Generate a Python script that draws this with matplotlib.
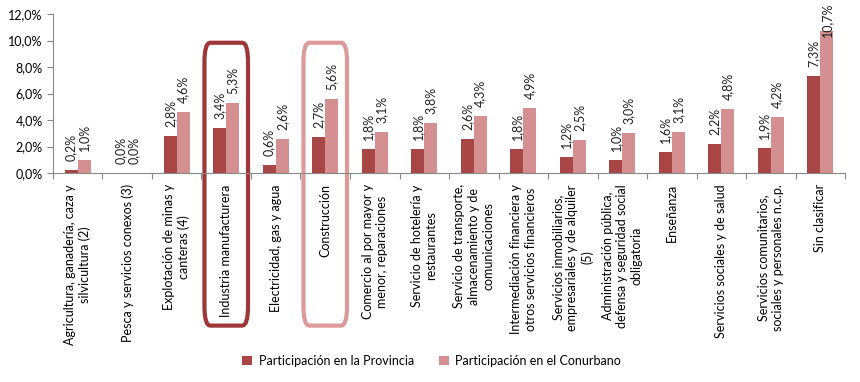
import numpy as np
import matplotlib.pyplot as plt
from matplotlib.patches import FancyBboxPatch
from matplotlib.transforms import blended_transform_factory

plt.rcParams['font.family'] = ['Lato', 'DejaVu Sans']

categories = [
    'Agricultura, ganadería, caza y\nsilvicultura (2)',
    'Pesca y servicios conexos (3)',
    'Explotación de minas y\ncanteras (4)',
    'Industria manufacturera',
    'Electricidad, gas y agua',
    'Construcción',
    'Comercio al por mayor y\nmenor, reparaciones',
    'Servicio de hotelería y\nrestaurantes',
    'Servicio de transporte,\nalmacenamiento y de\ncomunicaciones',
    'Intermediación financiera y\notros servicios financieros',
    'Servicios inmobiliarios,\nempresariales y de alquiler\n(5)',
    'Administración pública,\ndefensa y seguridad social\nobligatoria',
    'Enseñanza',
    'Servicios sociales y de salud',
    'Servicios comunitarios,\nsociales y personales n.c.p.',
    'Sin clasificar',
]
provincia = [0.2, 0.0, 2.8, 3.4, 0.6, 2.7, 1.8, 1.8, 2.6, 1.8, 1.2, 1.0, 1.6, 2.2, 1.9, 7.3]
conurbano = [1.0, 0.0, 4.6, 5.3, 2.6, 5.6, 3.1, 3.8, 4.3, 4.9, 2.5, 3.0, 3.1, 4.8, 4.2, 10.7]
series_names = ['Participación en la Provincia', 'Participación en el Conurbano']
highlight = {'Industria manufacturera': '#9E3838', 'Construcción': '#DC9A9A'}

dark = '#A84645'
light = '#D49090'
fs = 9

fig = plt.figure(figsize=(8.6, 3.82), dpi=100)
ax = fig.add_axes([0.0616, 0.547, 0.921, 0.416])

x = np.arange(len(categories))
w = 0.265
b1 = ax.bar(x - w / 2, provincia, w, color=dark, label=series_names[0])
b2 = ax.bar(x + w / 2, conurbano, w, color=light, label=series_names[1])

labels = []
for bars, vals in ((b1, provincia), (b2, conurbano)):
    for rect, v in zip(bars, vals):
        labels.append(ax.annotate(f'{v:.1f}%'.replace('.', ','),
                                  (rect.get_x() + rect.get_width() / 2, v),
                                  xytext=(0, 6.5), textcoords='offset points',
                                  rotation=90, ha='center', va='bottom',
                                  fontsize=fs, color='#222222'))

ax.set_xlim(-0.5, len(categories) - 0.5)
ax.set_ylim(0, 12)
yt = np.arange(0, 12.1, 2)
ax.set_yticks(yt)
ax.set_yticklabels([f'{t:.1f}%'.replace('.', ',') for t in yt])
ax.set_xticks(np.arange(-0.5, len(categories)))
ax.set_xticklabels([])
ax.set_xticks(x, minor=True)
ax.set_xticklabels(categories, minor=True, rotation=90, ha='center', va='top',
                   multialignment='center', fontsize=fs, linespacing=1.25)
ax.tick_params(axis='x', which='minor', length=0, pad=8)
ax.tick_params(axis='x', which='major', length=4, color='#888888')
ax.tick_params(axis='y', length=4, color='#888888', labelsize=fs)
for s in ('top', 'right'):
    ax.spines[s].set_visible(False)
for s in ('left', 'bottom'):
    ax.spines[s].set_color('#888888')

trans = blended_transform_factory(ax.transData, ax.transAxes)
for i, name in enumerate(categories):
    if name in highlight:
        box = FancyBboxPatch((i - 0.44, -0.96), 0.88, 1.78,
                             boxstyle='round,pad=0,rounding_size=0.12',
                             transform=trans, clip_on=False,
                             fill=False, lw=3, edgecolor=highlight[name])
        ax.add_patch(box)

fig.legend(handles=[b1, b2], loc='center', bbox_to_anchor=(0.502, 0.055),
           ncol=2, frameon=False, fontsize=fs, handlelength=0.8,
           handleheight=0.8, columnspacing=2.0, handletextpad=0.5)

# keep labels inside the chart like Excel does
fig.canvas.draw()
r = fig.canvas.get_renderer()
H = fig.bbox.height
for t in labels:
    bb = t.get_window_extent(r)
    if bb.y1 > H - 3:
        ox, oy = t.xyann
        t.xyann = (ox, oy - (bb.y1 - (H - 3)) * 72 / fig.dpi)

fig.savefig('out.png', dpi=100)
